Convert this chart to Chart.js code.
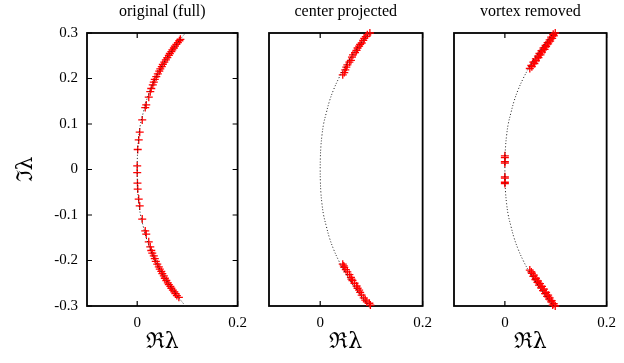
<!DOCTYPE html>
<html>
<head>
<meta charset="utf-8">
<script src="https://cdn.jsdelivr.net/npm/chart.js@4"></script>
<style>
  body { margin: 0; background: #fff; }
  #wrap { position: relative; width: 624px; height: 363px; }
  .panel { position: absolute; top: 0; height: 363px; }
</style>
</head>
<body>
<div id="wrap">
  <div class="panel" id="p1" style="left:0px;width:255px"><canvas id="c1"></canvas></div>
  <div class="panel" id="p2" style="left:250px;width:190px"><canvas id="c2"></canvas></div>
  <div class="panel" id="p3" style="left:435px;width:189px"><canvas id="c3"></canvas></div>
</div>
<script>
const panelTitles = ['original (full)', 'center projected', 'vortex removed'];
const xTicks = [0, 0.2];
const yTicks = [-0.3, -0.2, -0.1, 0, 0.1, 0.2, 0.3];

// dotted reference arc
const curveY = [-0.31, -0.3, -0.275, -0.25, -0.225, -0.2, -0.175, -0.15, -0.125, -0.1, -0.075, -0.05, -0.025, 0,
  0.025, 0.05, 0.075, 0.1, 0.125, 0.15, 0.175, 0.2, 0.225, 0.25, 0.275, 0.3, 0.31];
const curveX = [0.104, 0.096, 0.078, 0.062, 0.048, 0.036, 0.026, 0.018, 0.012, 0.0066, 0.0034, 0.0013, 0.0003, 0,
  0.0003, 0.0013, 0.0034, 0.0066, 0.012, 0.018, 0.026, 0.036, 0.048, 0.062, 0.078, 0.096, 0.104];

// original (full)
const fullY = [0.008, 0.044, 0.065, 0.082, 0.109, 0.136, 0.142, 0.159, 0.171, 0.178,
  0.186, 0.192, 0.198, 0.204, 0.210, 0.216, 0.221, 0.226, 0.231, 0.236, 0.241, 0.246,
  0.251, 0.255, 0.259, 0.263, 0.267, 0.271, 0.275, 0.279, 0.283, 0.286,
  -0.007, -0.030, -0.043, -0.065, -0.080, -0.109, -0.135, -0.142, -0.159, -0.170,
  -0.178, -0.184, -0.190, -0.196, -0.202, -0.208, -0.214, -0.219, -0.224, -0.229, -0.234,
  -0.239, -0.244, -0.249, -0.253, -0.257, -0.261, -0.265, -0.269, -0.273, -0.277, -0.281];
const fullX = [0.0, 0.001, 0.003, 0.005, 0.010, 0.016, 0.018, 0.023, 0.026, 0.028,
  0.031, 0.033, 0.035, 0.038, 0.041, 0.044, 0.046, 0.049, 0.051, 0.054, 0.057, 0.060,
  0.063, 0.065, 0.068, 0.070, 0.073, 0.075, 0.078, 0.081, 0.084, 0.086,
  0.0, 0.0005, 0.001, 0.003, 0.005, 0.010, 0.016, 0.018, 0.023, 0.026,
  0.028, 0.030, 0.033, 0.035, 0.037, 0.040, 0.043, 0.045, 0.048, 0.050, 0.053,
  0.055, 0.058, 0.061, 0.063, 0.066, 0.068, 0.071, 0.074, 0.076, 0.079, 0.083];

// center projected
const projY = [0.208, 0.213, 0.219, 0.225, 0.230, 0.236, 0.240, 0.247, 0.252, 0.257, 0.262,
  0.267, 0.271, 0.275, 0.278, 0.284, 0.288, 0.292, 0.296, 0.300,
  -0.208, -0.212, -0.215, -0.220, -0.225, -0.231, -0.237, -0.241, -0.244, -0.250, -0.256,
  -0.261, -0.265, -0.270, -0.276, -0.282, -0.287, -0.291, -0.294, -0.298];
const projX = [0.044, 0.047, 0.049, 0.051, 0.053, 0.057, 0.060, 0.062, 0.064, 0.068, 0.071,
  0.073, 0.076, 0.078, 0.081, 0.084, 0.086, 0.089, 0.092, 0.097,
  0.044, 0.046, 0.047, 0.050, 0.053, 0.057, 0.060, 0.061, 0.063, 0.067, 0.071,
  0.073, 0.076, 0.078, 0.081, 0.085, 0.088, 0.091, 0.096, 0.098];

// vortex removed
const remY = [0.030, 0.026, 0.017, 0.014, -0.016, -0.019, -0.028, -0.031,
  0.222, 0.226, 0.229, 0.233, 0.236, 0.239, 0.243, 0.246, 0.249, 0.252, 0.255, 0.258, 0.261,
  0.264, 0.267, 0.270, 0.273, 0.276, 0.279, 0.282, 0.285, 0.288, 0.291, 0.294, 0.297, 0.300,
  -0.221, -0.225, -0.228, -0.232, -0.235, -0.239, -0.242, -0.245, -0.248, -0.251, -0.254, -0.257,
  -0.260, -0.263, -0.266, -0.270, -0.273, -0.276, -0.279, -0.282, -0.285, -0.288, -0.291, -0.295, -0.298, -0.300];
const remX = [0, 0, 0, 0, 0, 0, 0, 0,
  0.049, 0.053, 0.052, 0.058, 0.056, 0.061, 0.061, 0.066, 0.065, 0.070, 0.068, 0.073, 0.072,
  0.078, 0.076, 0.081, 0.080, 0.085, 0.084, 0.089, 0.088, 0.093, 0.091, 0.096, 0.095, 0.099,
  0.049, 0.052, 0.053, 0.057, 0.056, 0.061, 0.060, 0.065, 0.064, 0.069, 0.067, 0.073,
  0.071, 0.077, 0.075, 0.081, 0.079, 0.085, 0.083, 0.088, 0.087, 0.092, 0.091, 0.096, 0.094, 0.099];

function toPoints(xs, ys) {
  return xs.map((x, i) => ({x: x, y: ys[i]}));
}

const serif = '"Liberation Serif", "Times New Roman", serif';

const framePlugin = {
  id: 'frame',
  beforeDatasetsDraw(chart, args, opts) {
    const a = chart.chartArea;
    const ctx = chart.ctx;
    ctx.save();
    ctx.strokeStyle = '#000';
    ctx.lineWidth = 1.8;
    ctx.strokeRect(a.left, a.top, a.right - a.left, a.bottom - a.top);
    ctx.lineWidth = 1.2;
    ctx.beginPath();
    xTicks.forEach(v => {
      const px = chart.scales.x.getPixelForValue(v);
      ctx.moveTo(px, a.bottom); ctx.lineTo(px, a.bottom - 5);
      ctx.moveTo(px, a.top); ctx.lineTo(px, a.top + 5);
    });
    if (opts.yMarks) {
      yTicks.forEach(v => {
        const py = chart.scales.y.getPixelForValue(v);
        ctx.moveTo(a.left, py); ctx.lineTo(a.left + 5, py);
        ctx.moveTo(a.right, py); ctx.lineTo(a.right - 5, py);
      });
    }
    ctx.stroke();
    ctx.fillStyle = '#000';
    ctx.font = '16px ' + serif;
    ctx.textAlign = 'center';
    ctx.textBaseline = 'middle';
    ctx.fillText(opts.title, (a.left + a.right) / 2, 12);
    ctx.restore();
  }
};

function makePanel(id, title, xs, ys, yWidth, padRight, showY) {
  return new Chart(document.getElementById(id), {
    type: 'scatter',
    data: {
      datasets: [{
        data: toPoints(curveX, curveY),
        showLine: true,
        borderColor: '#222',
        borderWidth: 1,
        borderDash: [1, 2],
        pointRadius: 0,
        tension: 0.4,
        order: 1
      }, {
        data: toPoints(xs, ys),
        pointStyle: 'cross',
        pointRadius: 4,
        borderColor: 'rgb(255, 0, 0)',
        borderWidth: 1.3,
        clip: false,
        order: 2
      }]
    },
    options: {
      responsive: true,
      maintainAspectRatio: false,
      animation: false,
      layout: { padding: { top: 33, right: padRight, left: 0, bottom: 0 } },
      plugins: {
        legend: { display: false },
        tooltip: { enabled: false },
        frame: { title: title, yMarks: showY }
      },
      scales: {
        x: {
          type: 'linear',
          min: -0.1,
          max: 0.2,
          afterBuildTicks: s => { s.ticks = xTicks.map(v => ({value: v})); },
          afterFit: s => { s.height = 57; },
          grid: { display: false, drawTicks: false },
          border: { display: false },
          ticks: { color: '#000', padding: 8, font: { family: serif, size: 15 }, maxRotation: 0,
            callback: v => String(v) },
          title: { display: true, text: 'ℜλ', color: '#000', padding: { top: 8, bottom: 8 },
            font: { family: '"DejaVu Serif", serif', size: 22 } }
        },
        y: {
          type: 'linear',
          min: -0.3,
          max: 0.3,
          afterBuildTicks: s => { s.ticks = yTicks.map(v => ({value: v})); },
          afterFit: s => { s.width = yWidth; },
          grid: { display: false, drawTicks: false },
          border: { display: false },
          ticks: { display: showY, color: '#000', padding: 9, font: { family: serif, size: 15 },
            callback: v => String(v) },
          title: { display: showY, text: 'ℑλ', color: '#000', padding: { top: 13, bottom: 4 },
            font: { family: '"DejaVu Serif", serif', size: 22 } }
        }
      }
    },
    plugins: [framePlugin]
  });
}

makePanel('c1', panelTitles[0], fullX, fullY, 87, 14, true);
makePanel('c2', panelTitles[1], projX, projY, 19, 14, false);
makePanel('c3', panelTitles[2], remX, remY, 19, 13, false);
</script>
</body>
</html>
